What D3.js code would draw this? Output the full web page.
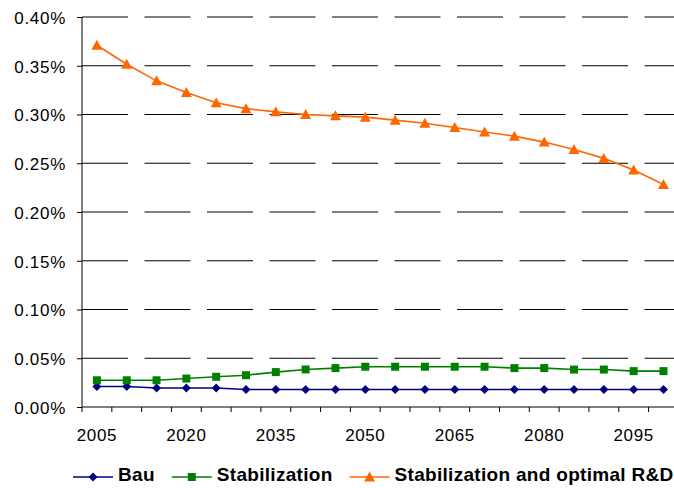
<!DOCTYPE html>
<html>
<head>
<meta charset="utf-8">
<script src="https://cdn.jsdelivr.net/npm/d3@7"></script>
<style>
  html, body { margin: 0; padding: 0; background: #fff; }
  svg { display: block; }
</style>
</head>
<body>
<svg id="chart" width="674" height="488"></svg>
<script>
const years = [2005,2010,2015,2020,2025,2030,2035,2040,2045,2050,2055,2060,2065,2070,2075,2080,2085,2090,2095,2100];
const xLabelYears = [2005,2020,2035,2050,2065,2080,2095];
const yTicks = [0,0.05,0.10,0.15,0.20,0.25,0.30,0.35,0.40];

const bau = [0.021,0.021,0.0195,0.0195,0.0195,0.018,0.018,0.018,0.018,0.018,0.018,0.018,0.018,0.018,0.018,0.018,0.018,0.018,0.018,0.018];
const stabilization = [0.0274,0.0274,0.0274,0.0292,0.0310,0.0326,0.0358,0.0385,0.0399,0.0413,0.0413,0.0413,0.0413,0.0413,0.0399,0.0399,0.0384,0.0384,0.0368,0.0368];
const stabilizationRD = [0.371,0.3515,0.3345,0.3225,0.312,0.306,0.3027,0.300,0.2986,0.2973,0.2942,0.2911,0.2867,0.282,0.2778,0.2717,0.2642,0.255,0.243,0.2283];

const seriesNames = ["Bau","Stabilization","Stabilization and optimal R&D"];
const seriesValues = [bau, stabilization, stabilizationRD];
const seriesColors = ["#000080","#008000","#FF6600"];
const seriesMarkers = ["diamond","square","triangle"];

const svg = d3.select("#chart");
const pLeft = 82, pTop = 17, pBottom = 407, pRight = 678.4;
const FONT = "'Liberation Sans', Arial, sans-serif";

const x = d3.scaleBand().domain(years).range([pLeft, pRight]).paddingInner(0).paddingOuter(0);
const xc = d => x(d) + x.bandwidth() / 2;
const y = d3.scaleLinear().domain([0, 0.40]).range([pBottom, pTop]);

function markerPath(type) {
  if (type === "diamond") return "M0,-4.5L4.5,0L0,4.5L-4.5,0Z";
  if (type === "square") return "M-4,-4L4,-4L4,4L-4,4Z";
  return "M0,-5.5L5.5,4.5L-5.5,4.5Z";
}

// gridlines (dashed)
svg.append("g").selectAll("line")
  .data(yTicks.filter(d => d > 0))
  .join("line")
  .attr("x1", pLeft).attr("x2", pRight)
  .attr("y1", d => y(d)).attr("y2", d => y(d))
  .attr("stroke", "#000").attr("stroke-width", 1)
  .attr("stroke-dasharray", "46,16.5");

// y axis
const yAxis = svg.append("g").attr("transform", `translate(${pLeft},0)`)
  .call(d3.axisLeft(y).tickValues(yTicks).tickSize(5).tickPadding(11)
    .tickFormat(d => d.toFixed(2) + "%"));
yAxis.select(".domain").attr("stroke", "#000").attr("d", `M0,${pTop}V${pBottom}`);
yAxis.selectAll(".tick line").attr("stroke", "#000");
yAxis.selectAll("text").attr("font-family", FONT).attr("font-size", 17)
  .attr("letter-spacing", "0.7px").attr("fill", "#000").attr("dy", "0.38em");

// x axis line + boundary ticks
const xg = svg.append("g");
xg.append("line").attr("x1", pLeft).attr("x2", pRight).attr("y1", pBottom).attr("y2", pBottom)
  .attr("stroke", "#000");
xg.selectAll("line.bt").data(years).join("line").attr("class", "bt")
  .attr("x1", d => x(d)).attr("x2", d => x(d))
  .attr("y1", pBottom).attr("y2", pBottom + 5).attr("stroke", "#000");

// x labels
const xAxis = svg.append("g").attr("transform", `translate(0,${pBottom})`)
  .call(d3.axisBottom(x).tickValues(xLabelYears).tickSize(0).tickPadding(22));
xAxis.select(".domain").remove();
xAxis.selectAll("text").attr("font-family", FONT).attr("font-size", 17)
  .attr("letter-spacing", "0.6px").attr("fill", "#000");

// lines and markers
const line = d3.line().x((d, i) => xc(years[i])).y(d => y(d));
seriesValues.forEach((vals, si) => {
  const g = svg.append("g");
  g.append("path").datum(vals).attr("d", line)
    .attr("fill", "none").attr("stroke", seriesColors[si]).attr("stroke-width", 1.6);
  g.selectAll("path.m").data(vals).join("path").attr("class", "m")
    .attr("d", markerPath(seriesMarkers[si]))
    .attr("transform", (d, i) => `translate(${xc(years[i])},${y(d)})`)
    .attr("fill", seriesColors[si]);
});

// legend
const legendY = 477;
let lx = 73;
seriesNames.forEach((name, si) => {
  const g = svg.append("g");
  g.append("line").attr("x1", lx).attr("x2", lx + 40).attr("y1", legendY).attr("y2", legendY)
    .attr("stroke", seriesColors[si]).attr("stroke-width", 1.6);
  g.append("path").attr("d", markerPath(seriesMarkers[si]))
    .attr("transform", `translate(${lx + 20},${legendY})`).attr("fill", seriesColors[si]);
  const t = g.append("text").attr("x", lx + 45).attr("y", 481)
    .attr("font-family", FONT).attr("font-size", 19).attr("font-weight", "bold")
    .attr("letter-spacing", "0.3px")
    .attr("fill", "#000").text(name);
  lx = lx + 45 + t.node().getComputedTextLength() + 17;
});
</script>
</body>
</html>
